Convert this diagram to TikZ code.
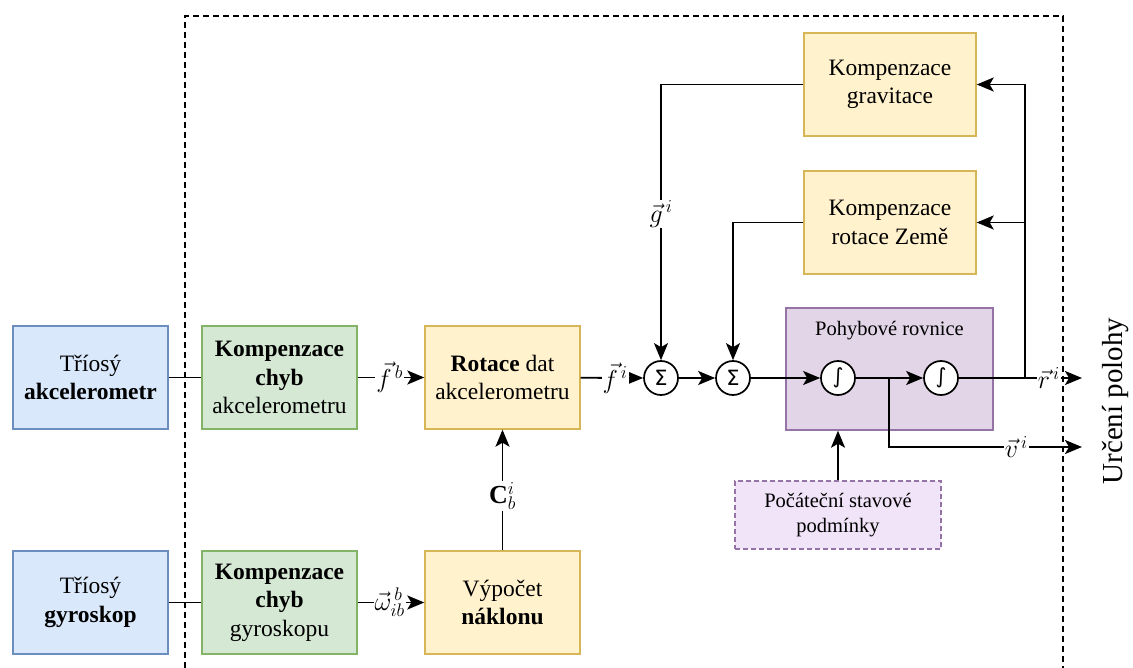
\RequirePackage{fix-cm}
\documentclass[tikz,border=0pt]{standalone}
\usepackage{fontspec}
\setmainfont{Liberation Serif}
\newfontfamily\opfont{DejaVu Sans}
\usetikzlibrary{arrows.meta}

\definecolor{sensfill}{HTML}{DAE8FC}
\definecolor{sensline}{HTML}{6C8EBF}
\definecolor{compfill}{HTML}{D5E8D4}
\definecolor{compline}{HTML}{82B366}
\definecolor{procfill}{HTML}{FFF2CC}
\definecolor{procline}{HTML}{D6B656}
\definecolor{eqfill}{HTML}{E1D5E7}
\definecolor{eqline}{HTML}{9673A6}
\definecolor{initfill}{HTML}{F1E4F8}

\tikzset{
  txt/.style={font=\fontsize{23.5}{28.5}\selectfont},
  smalltxt/.style={font=\fontsize{20.5}{25}\selectfont},
  block/.style={txt, draw, line width=1.4pt, align=center, inner sep=0pt,
    minimum width=155pt, minimum height=103pt},
  sensor/.style={block, fill=sensfill, draw=sensline},
  compbox/.style={block, fill=compfill, draw=compline},
  procbox/.style={block, fill=procfill, draw=procline},
  wide/.style={procbox, minimum width=172pt},
  op/.style={circle, draw, fill=white, line width=1.7pt, minimum size=34pt,
    inner sep=0pt, font=\opfont\fontsize{21}{21}\selectfont},
  arr/.style={-{Stealth[length=17pt,width=14pt,inset=4pt]}},
  lbl/.style={font=\fontsize{26}{28}\selectfont, fill=white, inner sep=1pt},
}

\begin{document}
\begin{tikzpicture}[x=1pt, y=-1pt, line width=1.9pt]
\useasboundingbox (0,0) rectangle (1133,668);

% dashed frame of the navigation computer
\draw[dash pattern=on 6pt off 4pt, line width=1.5pt]
  (185,668) -- (185,16) -- (1063,16) -- (1063,668);

% sensors
\node[sensor] (acc) at (90.5,377.5) {Tříosý\\\textbf{akcelerometr}};
\node[sensor] (gyr) at (90.5,602.5) {Tříosý\\\textbf{gyroskop}};

% error compensation
\node[compbox] (cacc) at (279.5,377.5) {\textbf{Kompenzace}\\\textbf{chyb}\\akcelerometru};
\node[compbox] (cgyr) at (279.5,602.5) {\textbf{Kompenzace}\\\textbf{chyb}\\gyroskopu};

% rotation and attitude
\node[procbox] (rot) at (502.5,377.5) {\textbf{Rotace} dat\\akcelerometru};
\node[procbox] (att) at (502.5,602.5) {Výpočet\\\textbf{náklonu}};

% gravity and Earth rotation compensation
\node[wide] (grav) at (890,84.5) {Kompenzace\\gravitace};
\node[wide] (earth) at (890,222.5) {Kompenzace\\rotace Země};

% equations of motion
\node[draw=eqline, fill=eqfill, line width=1.4pt, minimum width=207pt,
  minimum height=122pt, inner sep=0pt] (eom) at (889.5,369) {};
\node[smalltxt] (eomt) at (889.5,331) {Pohybové rovnice};

\node[op] (s1) at (661,378) {Σ};
\node[op] (s2) at (733,378) {Σ};
\node[op] (i1) at (838,378) {∫};
\node[op] (i2) at (941,378) {∫};

% initial conditions
\node[smalltxt, draw=eqline, fill=initfill, line width=1.4pt,
  dash pattern=on 5pt off 3pt, align=center, minimum width=206pt,
  minimum height=68pt, inner sep=0pt] (init) at (838,515)
  {Počáteční stavové\\podmínky};

\node[font=\fontsize{29}{29}\selectfont, rotate=90] (out) at (1116,401) {Určení polohy};

\coordinate (rend) at (1082,378);
\coordinate (vend) at (1082,447);
\coordinate (vbr) at (889,378);
\coordinate (fb) at (1025,378);

% signal flow
\draw (acc) -- (cacc);
\draw (gyr) -- (cgyr);
\draw[arr] (cacc) -- node[lbl, pos=0.48] {$\vec{f}^{\,b}$} (rot);
\draw[arr] (cgyr) -- node[lbl, pos=0.48] {$\vec{\omega}_{ib}^{\,b}$} (att);
\draw[arr] (att) -- node[lbl, pos=0.45] {$\mathbf{C}_b^i$} (rot);
\draw[arr] (rot) -- node[lbl, pos=0.55] {$\vec{f}^{\,i}$} (s1);
\draw[arr] (s1) -- (s2);
\draw[arr] (s2) -- (i1);
\draw[arr] (i1) -- (i2);
\draw[arr] (i2) -- node[lbl, pos=0.73] {$\vec{r}^{\,i}$} (rend);
\draw[arr] (vbr) |- node[lbl, pos=0.83] {$\vec{v}^{\,i}$} (vend);
\draw[arr] (fb) |- (grav.east);
\draw[arr] (fb) |- (earth.east);
\draw[arr] (grav.west) -| node[lbl, pos=0.735] {$\vec{g}^{\,i}$} (s1.north);
\draw[arr] (earth.west) -| (s2.north);
\draw[arr] (init.north) -- (init.north |- eom.south);
\end{tikzpicture}
\end{document}
